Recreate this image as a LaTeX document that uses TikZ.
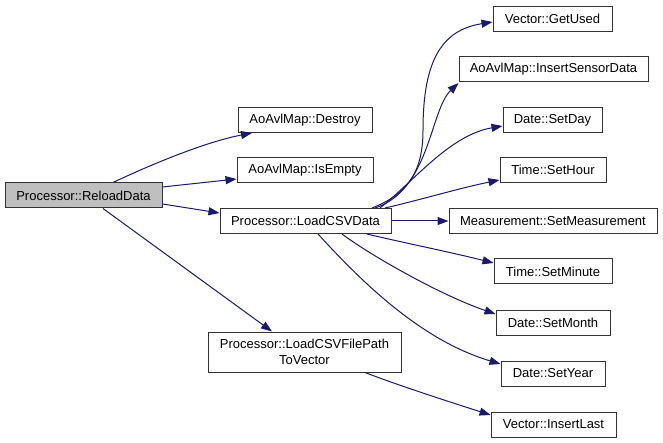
\documentclass[tikz,border=0pt]{standalone}
\usepackage{fontspec}
\setmainfont{Liberation Sans}
\usetikzlibrary{arrows.meta}
\definecolor{edgeblue}{HTML}{191970}
\definecolor{rootgray}{HTML}{BFBFBF}
\definecolor{boxline}{HTML}{333333}
\tikzset{
  fn/.style={draw=boxline, line width=1pt, fill=white, rectangle, inner sep=0pt,
    minimum height=25pt, font=\fontsize{13}{16}\selectfont, align=center},
  root/.style={fn, fill=rootgray},
  call/.style={draw=edgeblue, line width=1pt,
    -{Triangle[length=11pt,width=8pt]}, fill=none},
}
\begin{document}
\begin{tikzpicture}[x=1pt,y=-1pt]
\useasboundingbox (0,0) rectangle (663,443);
% nodes
\node[root, minimum width=157pt] (rd) at (83.5,195.5) {Processor::ReloadData};
\node[fn, minimum width=134pt] (destroy) at (305,120) {AoAvlMap::Destroy};
\node[fn, minimum width=136pt] (empty) at (305,170.5) {AoAvlMap::IsEmpty};
\node[fn, minimum width=171pt] (load) at (305.5,221) {Processor::LoadCSVData};
\node[fn, minimum width=193pt, minimum height=40pt] (fp) at (304.5,352) {Processor::LoadCSVFilePath\\ToVector};
\node[fn, minimum width=119pt] (used) at (552.5,19) {Vector::GetUsed};
\node[fn, minimum width=189pt] (ins) at (553.5,69.5) {AoAvlMap::InsertSensorData};
\node[fn, minimum width=99pt] (day) at (552.5,120) {Date::SetDay};
\node[fn, minimum width=106pt] (hour) at (553,170) {Time::SetHour};
\node[fn, minimum width=208pt] (meas) at (553,221.5) {Measurement::SetMeasurement};
\node[fn, minimum width=118pt] (min) at (553,271.5) {Time::SetMinute};
\node[fn, minimum width=114pt] (month) at (553,322.5) {Date::SetMonth};
\node[fn, minimum width=104pt] (year) at (553,373.5) {Date::SetYear};
\node[fn, minimum width=125pt] (last) at (553.5,424.5) {Vector::InsertLast};
% connectors from ReloadData
\draw[call] ([xshift=29.5pt]rd.north) .. controls (150,165) and (205,142) .. ([xshift=-53pt]destroy.south);
\draw[call] ([yshift=8.5pt]rd.east) -- ([yshift=-8.5pt]empty.west);
\draw[call] ([yshift=-8.5pt]rd.east) -- ([yshift=8pt]load.west);
\draw[call] ([xshift=19.5pt]rd.south) -- ([xshift=-32.5pt]fp.north);
% connectors from LoadCSVData
\draw[call] ([xshift=66.5pt]load.north) .. controls (405,195) and (423,175) .. (423,130)
  .. controls (423,60) and (442,30) .. ([yshift=-3pt]used.west);
\draw[call] ([xshift=69.5pt]load.north) .. controls (430,190) and (430,110) .. ([yshift=-13.5pt]ins.west);
\draw[call] ([xshift=74.5pt]load.north) .. controls (415,180) and (450,135) .. ([yshift=-6pt]day.west);
\draw[call] ([xshift=79.5pt]load.north) .. controls (420,200) and (460,188) .. ([yshift=-10pt]hour.west);
\draw[call] (load.east) -- ([yshift=0.5pt]meas.west);
\draw[call] ([xshift=61.5pt]load.south) .. controls (400,242) and (450,252) .. ([yshift=8.5pt]min.west);
\draw[call] ([xshift=36.5pt]load.south) .. controls (370,255) and (440,295) .. ([yshift=8.5pt]month.west);
\draw[call] ([xshift=12.5pt]load.south) .. controls (360,280) and (420,340) .. ([yshift=9.5pt]year.west);
% connector from LoadCSVFilePathToVector
\draw[call] ([xshift=60.5pt]fp.south) .. controls (400,386) and (450,402) .. ([yshift=9.5pt]last.west);
\end{tikzpicture}
\end{document}
